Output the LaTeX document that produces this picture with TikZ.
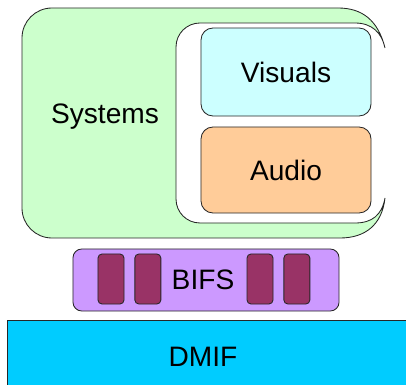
\documentclass[tikz,border=0pt]{standalone}
\usepackage{fontspec}
\setmainfont{Liberation Sans}
\usetikzlibrary{positioning}

\definecolor{sysgreen}{HTML}{CCFFCC}
\definecolor{viscyan}{HTML}{CCFFFF}
\definecolor{audorange}{HTML}{FFCC99}
\definecolor{bifspurple}{HTML}{CC99FF}
\definecolor{slotred}{HTML}{993366}
\definecolor{dmifblue}{HTML}{00CCFF}

\begin{document}
\begin{tikzpicture}[x=0.025cm,y=-0.025cm,line width=0.6pt,
	label text/.style={font=\fontsize{20}{24}\selectfont},
	panel/.style={draw=black!85,rounded corners=0.3cm,inner sep=0pt,minimum width=4.25cm,label text},
	slot/.style={draw=black!85,fill=slotred,rounded corners=0.1cm,minimum width=0.65cm,minimum height=1.25cm,inner sep=0pt}]

	\clip (0,0) rectangle (406,385);

	% systems frame
	\draw [fill=sysgreen,draw=black!85]
		(385,48) .. controls (378,20) and (362,8) .. (338,8) -- (52,8)
		.. controls (35.4,8) and (22,21.4) .. (22,38) -- (22,208)
		.. controls (22,224.6) and (35.4,238) .. (52,238) -- (340,238)
		.. controls (365,238) and (382,225) .. (385,198)
		.. controls (382,215) and (372,223) .. (355,223) -- (200,223)
		.. controls (186.7,223) and (176,212.3) .. (176,199) -- (176,47)
		.. controls (176,33.7) and (186.7,23) .. (200,23) -- (355,23)
		.. controls (372,23) and (382,33) .. (385,48) -- cycle;
	\node [label text] at (105,117)	(systems)	{Systems};

	\node [panel,fill=viscyan,minimum height=2.2cm] at (286,72)		(visuals)	{Visuals};
	\node [panel,fill=audorange,minimum height=2.15cm] at (286,170)	(audio)		{Audio};

	% bifs
	\node [panel,fill=bifspurple,rounded corners=0.22cm,minimum width=6.65cm,minimum height=1.55cm] at (206,280)	(bifs)	{};
	\node [label text] at (203,280)	(bifstext)	{BIFS};
	\node [slot] at (111,279)	(slot1)	{};
	\node [slot,right=0.25cm of slot1]	(slot2)	{};
	\node [slot] at (260,279)	(slot3)	{};
	\node [slot,right=0.25cm of slot3]	(slot4)	{};

	% dmif
	\node [draw=black!85,fill=dmifblue,minimum width=10.5cm,minimum height=2cm,anchor=north west,inner sep=0pt] at (7,320)	(dmif)	{};
	\node [label text] at (203,357)	(dmiftext)	{DMIF};

\end{tikzpicture}
\end{document}
